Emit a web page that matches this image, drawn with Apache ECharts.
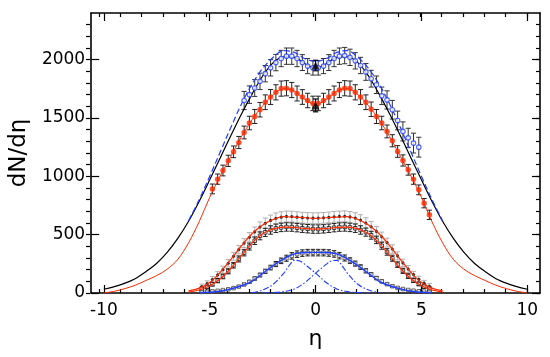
<!DOCTYPE html>
<html><head><meta charset="utf-8">
<script src="https://cdn.jsdelivr.net/npm/echarts@6/dist/echarts.min.js"></script>
<style>html,body{margin:0;padding:0;background:#fff}#c{width:550px;height:357px}</style>
</head><body><div id="c"></div>
<script>
// ---- tick labels ----
const xMajor = [-10, -5, 0, 5, 10];
const xMinor = [-10,-9,-8,-7,-6,-5,-4,-3,-2,-1,0,1,2,3,4,5,6,7,8,9,10];
const yMajor = [0, 500, 1000, 1500, 2000];
const yMinor = [0,100,200,300,400,500,600,700,800,900,1000,1100,1200,1300,1400,1500,1600,1700,1800,1900,2000,2100,2200,2300];

// ---- wide curves ----
const etaCurve = [-10,-9.5,-9,-8.5,-8,-7.5,-7,-6.5,-6,-5.5,-5,-4.5,-4,-3.5,-3,-2.5,-2,-1.5,-1,-0.5,0,0.5,1,1.5,2,2.5,3,3.5,4,4.5,5,5.5,6,6.5,7,7.5,8,8.5,9,9.5,10];
const blackCurve = [32,55,85,125,185,255,350,470,615,785,970,1160,1350,1535,1705,1860,1975,2025,2020,1965,1930,1965,2020,2025,1975,1860,1705,1535,1350,1160,970,785,615,470,350,255,185,125,85,55,32];
const redCurve = [0,15,38,68,108,150,205,290,430,610,820,1005,1172,1340,1485,1605,1700,1752,1730,1658,1618,1658,1730,1752,1700,1605,1485,1340,1172,1005,820,610,430,290,205,150,108,68,38,15,0];

const etaDash = [-6,-5.5,-5,-4.5,-4,-3.5,-3,-2.5,-2,-1.5,-1,-0.5,0,0.5,1,1.5,2,2.5,3,3.5,4,4.5,5,5.5,6];
const blueDash = [620,800,1000,1210,1420,1620,1790,1925,2020,2078,2062,2008,1985,2008,2062,2078,2020,1925,1790,1620,1420,1210,1000,800,620];

// ---- lower curves ----
const etaLow = [-6,-5.5,-5,-4.5,-4,-3.5,-3,-2.5,-2,-1.5,-1,-0.5,0,0.5,1,1.5,2,2.5,3,3.5,4,4.5,5,5.5,6];
const redLow1 = [18,42,90,178,288,405,508,583,630,654,650,645,640,645,650,654,630,583,508,405,288,178,90,42,18];
const redLow2 = [8,26,62,122,212,322,428,508,550,565,562,552,548,552,562,565,550,508,428,322,212,122,62,26,8];
const etaB = [-5.5,-5,-4.5,-4,-3.5,-3,-2.5,-2,-1.5,-1,-0.5,0,0.5,1,1.5,2,2.5,3,3.5,4,4.5,5,5.5];
const blueLow = [2,6,15,35,62,100,168,235,293,335,347,348,347,335,293,235,168,100,62,35,15,6,2];
const etaDDL = [-3,-2.5,-2,-1.5,-1.25,-1,-0.75,-0.5,0,0.5,1,1.5,2,2.5];
const dashDotL = [3,25,75,170,235,280,275,245,170,90,35,12,4,0];
const etaDDR = [-2.5,-2,-1.5,-1,-0.5,0,0.5,0.75,1,1.25,1.5,2,2.5,3];
const dashDotR = [0,4,12,35,90,170,245,275,280,235,170,75,25,3];

// ---- data points ----
const etaRed = [-4.875,-4.625,-4.375,-4.125,-3.875,-3.625,-3.375,-3.125,-2.875,-2.625,-2.375,-2.125,-1.875,-1.625,-1.375,-1.125,-0.875,-0.625,-0.375,-0.125,0.125,0.375,0.625,0.875,1.125,1.375,1.625,1.875,2.125,2.375,2.625,2.875,3.125,3.375,3.625,3.875,4.125,4.375,4.625,4.875,5.125,5.375];
const redData = [892,976,1050,1133,1210,1290,1376,1457,1513,1571,1635,1680,1720,1752,1755,1740,1710,1680,1650,1625,1625,1650,1680,1710,1740,1755,1752,1720,1680,1635,1575,1513,1457,1385,1305,1213,1136,1056,976,884,770,670];
const redErr = [42,44,46,48,50,52,55,58,60,62,63,64,65,65,65,65,64,63,62,62,62,62,63,64,65,65,65,65,64,63,62,60,58,55,52,50,48,46,44,42,40,40];

const etaBlue = [-3.375,-3.125,-2.875,-2.625,-2.375,-2.125,-1.875,-1.625,-1.375,-1.125,-0.875,-0.625,-0.375,-0.125,0.125,0.375,0.625,0.875,1.125,1.375,1.625,1.875,2.125,2.375,2.625,2.875,3.125,3.375,3.625,3.875,4.125,4.375,4.625,4.875];
const blueData = [1650,1700,1757,1814,1880,1930,1975,2010,2030,2030,2010,1975,1945,1930,1930,1945,1975,2010,2030,2035,2020,1990,1950,1895,1837,1785,1690,1655,1571,1479,1385,1330,1285,1250];
const blueErr = [78,75,72,70,70,70,70,70,70,70,70,68,65,62,62,65,68,70,70,70,70,70,70,72,72,75,75,78,80,80,82,82,85,85];

const etaTri = [0, 0];
const triData = [1950, 1608];
const triErr = [45, 55];

const etaLowPts = [-5.375,-5.125,-4.875,-4.625,-4.375,-4.125,-3.875,-3.625,-3.375,-3.125,-2.875,-2.625,-2.375,-2.125,-1.875,-1.625,-1.375,-1.125,-0.875,-0.625,-0.375,-0.125,0.125,0.375,0.625,0.875,1.125,1.375,1.625,1.875,2.125,2.375,2.625,2.875,3.125,3.375,3.625,3.875,4.125,4.375,4.625,4.875,5.125,5.375];
const p1Data = [55,80,115,155,200,255,315,372,428,478,524,565,598,622,640,650,656,655,650,646,643,641,642,644,648,653,656,658,652,642,625,600,568,528,482,432,377,318,258,205,158,118,84,58];
const p1Err = [22,24,26,28,30,32,34,36,38,40,42,44,45,46,46,46,46,46,46,46,46,46,46,46,46,46,46,46,46,46,46,45,44,42,40,38,36,34,32,30,28,26,24,22];
const p2Data = [36,52,76,106,142,186,238,292,346,398,448,490,520,540,554,562,566,565,560,555,551,548,548,550,555,560,565,566,562,555,540,522,495,455,405,352,298,243,190,145,108,78,55,38];
const p2Err = [14,15,16,18,20,22,24,26,28,30,32,34,35,36,36,36,36,36,36,36,36,36,36,36,36,36,36,36,36,36,36,35,34,32,30,28,26,24,22,20,18,16,15,14];
const p3Data = [9,11,14,19,25,32,42,55,73,96,124,154,186,218,248,276,298,318,333,342,346,346,346,346,343,335,320,300,278,252,222,190,158,128,100,76,58,44,34,26,20,15,12,10];
const p3Err = [3,3,4,4,5,6,7,8,10,12,14,16,18,20,22,24,26,28,28,28,28,28,28,28,28,28,28,26,24,22,20,18,16,14,12,10,8,7,6,5,4,4,3,3];

// ---- helpers ----
const RED = '#ff2a00', BLUE = '#1f3cff', FONT = 'DejaVu Sans';
function pairs(xs, ys) { return xs.map((x, i) => [x, ys[i]]); }
function curve(xs, ys, color, width, type, z) {
  return { type: 'line', data: pairs(xs, ys), showSymbol: false, smooth: 0.35, silent: true, z: z || 3,
    lineStyle: { color: color, width: width, type: type || 'solid' } };
}
function errBars(xs, vals, errs, color, capW, lw, z) {
  return { type: 'custom', silent: true, z: z || 2,
    data: xs.map((x, i) => [x, vals[i] - errs[i], vals[i] + errs[i]]),
    encode: { x: 0, y: [1, 2] },
    renderItem: function (params, api) {
      const x = api.value(0);
      const lo = api.coord([x, api.value(1)]);
      const hi = api.coord([x, api.value(2)]);
      const st = { stroke: color, lineWidth: lw };
      return { type: 'group', children: [
        { type: 'line', shape: { x1: lo[0], y1: lo[1], x2: hi[0], y2: hi[1] }, style: st },
        { type: 'line', shape: { x1: lo[0] - capW, y1: lo[1], x2: lo[0] + capW, y2: lo[1] }, style: st },
        { type: 'line', shape: { x1: hi[0] - capW, y1: hi[1], x2: hi[0] + capW, y2: hi[1] }, style: st }
      ] };
    } };
}
function points(xs, ys, symbol, size, fill, border, bw, z) {
  return { type: 'scatter', data: pairs(xs, ys), symbol: symbol, symbolSize: size, silent: true, z: z || 4,
    itemStyle: { color: fill, borderColor: border, borderWidth: bw } };
}

const XMIN = -10.6, XMAX = 10.6, YMIN = 0, YMAX = 2400;
const lineSt = { color: '#000', width: 1.6 };
const tickSt = { color: '#000', width: 1.2 };
function xAx(grid, pos, major) {
  return { type: 'value', gridIndex: grid, min: XMIN, max: XMAX, position: pos,
    axisLine: { show: major, onZero: false, lineStyle: lineSt },
    axisTick: { show: true, inside: true, length: major ? 8 : 4, customValues: major ? xMajor : xMinor, lineStyle: tickSt },
    axisLabel: (pos === 'bottom' && major) ? { show: true, customValues: xMajor, fontSize: 17, color: '#000', fontFamily: FONT, margin: 9 } : { show: false },
    splitLine: { show: false } };
}
function yAx(grid, pos, major) {
  return { type: 'value', gridIndex: grid, min: YMIN, max: YMAX, position: pos,
    axisLine: { show: major, onZero: false, lineStyle: lineSt },
    axisTick: { show: true, inside: true, length: major ? 8 : 4, customValues: major ? yMajor : yMinor, lineStyle: tickSt },
    axisLabel: (pos === 'left' && major) ? { show: true, customValues: yMajor, fontSize: 17, color: '#000', fontFamily: FONT, margin: 6, formatter: function (v) { return String(v); } } : { show: false },
    splitLine: { show: false } };
}
const xAxes = [xAx(0, 'bottom', true), xAx(0, 'top', true), xAx(1, 'bottom', false), xAx(1, 'top', false)];
xAxes[0].name = 'η'; xAxes[0].nameLocation = 'middle'; xAxes[0].nameGap = 35;
xAxes[0].nameTextStyle = { fontSize: 22, color: '#000', fontFamily: FONT };
const yAxes = [yAx(0, 'left', true), yAx(0, 'right', true), yAx(1, 'left', false), yAx(1, 'right', false)];
yAxes[0].name = 'dN/dη'; yAxes[0].nameLocation = 'middle'; yAxes[0].nameGap = 50;
yAxes[0].nameTextStyle = { fontSize: 23, color: '#000', fontFamily: FONT };

const gridBox = { left: 86, right: 10, top: 13, bottom: 64, containLabel: false };
const chart = echarts.init(document.getElementById('c'), null, { renderer: 'canvas' });
chart.setOption({
  animation: false,
  backgroundColor: '#fff',
  grid: [Object.assign({}, gridBox), Object.assign({}, gridBox)],
  xAxis: xAxes,
  yAxis: yAxes,
  series: [
    // wide upper curves
    curve(etaCurve, blackCurve, '#000', 1.2, 'solid', 3),
    curve(etaCurve, redCurve, RED, 1.0, 'solid', 3),
    curve(etaDash, blueDash, BLUE, 1.2, [6, 3], 3),
    // upper data
    errBars(etaBlue, blueData, blueErr, '#333', 2.6, 1, 2),
    points(etaBlue, blueData, 'circle', 4.5, '#fff', BLUE, 1.1, 4),
    errBars(etaRed, redData, redErr, '#222', 2.6, 1, 2),
    points(etaRed, redData, 'circle', 5.5, RED, RED, 0, 4),
    errBars(etaTri, triData, triErr, '#000', 2.6, 1.2, 2),
    points(etaTri, triData, 'triangle', 8, '#000', '#000', 0, 5),
    // lower data
    errBars(etaLowPts, p1Data, p1Err, '#b0b0b0', 2.6, 1, 1),
    errBars(etaLowPts, p2Data, p2Err, '#222', 2.4, 1, 2),
    errBars(etaLowPts, p3Data, p3Err, '#222', 2.2, 1, 2),
    points(etaLowPts, p1Data, 'circle', 3.2, '#000', '#000', 0, 4),
    points(etaLowPts, p2Data, 'rect', 3.5, '#fff', '#000', 0.9, 4),
    points(etaLowPts, p3Data, 'rect', 3.5, '#fff', '#333', 0.9, 4),
    // lower curves
    curve(etaLow, redLow1, RED, 1.2, 'solid', 5),
    curve(etaLow, redLow2, RED, 1.2, 'solid', 5),
    curve(etaB, blueLow, BLUE, 1.4, 'solid', 5),
    curve(etaDDL, dashDotL, BLUE, 1.1, [6, 2, 1.5, 2], 5),
    curve(etaDDR, dashDotR, BLUE, 1.1, [6, 2, 1.5, 2], 5)
  ]
});
</script>
</body></html>
